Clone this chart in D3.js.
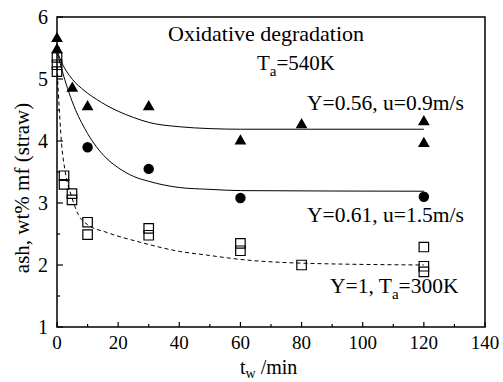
<!DOCTYPE html>
<head>
<script src="https://d3js.org/d3.v7.min.js"></script>
<style>
body { margin: 0; background: #fff; }
svg text { font-family: "Liberation Serif", "DejaVu Serif", serif; fill: #000; }
</style>
</head>
<body>
<svg></svg>
<script>
// measured points, ash content (wt% mf) vs washing time t_w (min)
var triT = [0, 0, 5, 10, 30, 60, 80, 120, 120];
var triY = [5.65, 5.47, 4.85, 4.55, 4.55, 4.0, 4.26, 4.31, 3.96];
var cirT = [10, 30, 60, 120];
var cirY = [3.9, 3.55, 3.08, 3.1];
var sqT = [0, 0, 0, 2.3, 2.3, 4.9, 4.9, 10, 10, 30, 30, 60, 60, 80, 120, 120, 120];
var sqY = [5.35, 5.23, 5.12, 3.44, 3.3, 3.15, 3.05, 2.69, 2.49, 2.59, 2.48, 2.35, 2.23, 2.0, 2.29, 1.98, 1.89];

// fitted curves
var fitTopT = [0, 2, 4, 6, 8, 10, 13, 16, 20, 25, 30, 40, 50, 60, 120];
var fitTopY = [5.45, 5.22, 5.06, 4.94, 4.85, 4.77, 4.67, 4.58, 4.48, 4.38, 4.3, 4.23, 4.2, 4.19, 4.19];
var fitMidT = [0, 2, 4, 6, 8, 10, 13, 16, 20, 25, 30, 40, 50, 60, 120];
var fitMidY = [5.45, 5.08, 4.77, 4.51, 4.3, 4.12, 3.9, 3.73, 3.57, 3.43, 3.35, 3.25, 3.22, 3.2, 3.19];
var fitLowT = [0, 0.4, 1.5, 2.6, 4.8, 7, 10, 16, 27, 40, 49, 60, 80, 120];
var fitLowY = [5.2, 4.82, 3.95, 3.53, 3.1, 2.81, 2.65, 2.53, 2.37, 2.22, 2.16, 2.09, 2.03, 2.0];

var xTicks = [0, 20, 40, 60, 80, 100, 120, 140];
var yTicks = [1, 2, 3, 4, 5, 6];

var width = 503, height = 382;
var plotL = 57, plotR = 485, plotT = 17, plotB = 327;

var svg = d3.select('svg').attr('width', width).attr('height', height);

var x = d3.scaleLinear().domain([0, 140]).range([plotL, plotR]);
var y = d3.scaleLinear().domain([1, 6]).range([plotB, plotT]);

// frame
svg.append('rect')
    .attr('x', plotL).attr('y', plotT)
    .attr('width', plotR - plotL).attr('height', plotB - plotT)
    .attr('fill', 'none').attr('stroke', '#000').attr('stroke-width', 1.5);

// ticks point inwards
svg.append('g').selectAll('line')
    .data(d3.range(0, 141, 10))
    .enter().append('line')
    .attr('x1', function (d) { return x(d); }).attr('x2', function (d) { return x(d); })
    .attr('y1', plotB).attr('y2', function (d) { return d % 20 ? plotB - 3 : plotB - 5; })
    .attr('stroke', '#000').attr('stroke-width', 1.2);

svg.append('g').selectAll('line')
    .data(d3.range(1, 6.01, 0.5))
    .enter().append('line')
    .attr('y1', function (d) { return y(d); }).attr('y2', function (d) { return y(d); })
    .attr('x1', plotL).attr('x2', function (d) { return d % 1 ? plotL + 3 : plotL + 6; })
    .attr('stroke', '#000').attr('stroke-width', 1.2);

svg.append('g').selectAll('text')
    .data(xTicks)
    .enter().append('text')
    .attr('x', function (d) { return x(d); })
    .attr('y', 349)
    .attr('text-anchor', 'middle')
    .style('font-size', '19px')
    .text(function (d) { return d; });

svg.append('g').selectAll('text')
    .data(yTicks)
    .enter().append('text')
    .attr('x', plotL - 9)
    .attr('y', function (d) { return y(d); })
    .attr('dy', '0.35em')
    .attr('text-anchor', 'end')
    .style('font-size', '20px')
    .text(function (d) { return d; });

// axis titles
var xl = svg.append('text').attr('x', 240).attr('y', 374).style('font-size', '20px');
xl.append('tspan').text('t');
xl.append('tspan').attr('dy', 4).style('font-size', '14px').text('w');
xl.append('tspan').attr('dy', -4).text(' /min');

svg.append('text')
    .attr('transform', 'translate(29,188) rotate(-90)')
    .attr('text-anchor', 'middle')
    .style('font-size', '21px')
    .text('ash, wt% mf (straw)');

// fitted curves
var line = d3.line()
    .x(function (d) { return x(d[0]); })
    .y(function (d) { return y(d[1]); })
    .curve(d3.curveMonotoneX);

svg.append('path').datum(d3.zip(fitTopT, fitTopY))
    .attr('d', line).attr('fill', 'none').attr('stroke', '#000').attr('stroke-width', 1);
svg.append('path').datum(d3.zip(fitMidT, fitMidY))
    .attr('d', line).attr('fill', 'none').attr('stroke', '#000').attr('stroke-width', 1);
svg.append('path').datum(d3.zip(fitLowT, fitLowY))
    .attr('d', line).attr('fill', 'none').attr('stroke', '#000').attr('stroke-width', 1)
    .attr('stroke-dasharray', '4,3');

// markers
svg.append('g').selectAll('path')
    .data(d3.zip(sqT, sqY))
    .enter().append('path')
    .attr('d', d3.symbol().type(d3.symbolSquare).size(90))
    .attr('transform', function (d) { return 'translate(' + x(d[0]) + ',' + y(d[1]) + ')'; })
    .attr('fill', 'none').attr('stroke', '#000').attr('stroke-width', 1.2);

svg.append('g').selectAll('circle')
    .data(d3.zip(cirT, cirY))
    .enter().append('circle')
    .attr('cx', function (d) { return x(d[0]); })
    .attr('cy', function (d) { return y(d[1]); })
    .attr('r', 5.2)
    .attr('fill', '#000');

svg.append('g').selectAll('path')
    .data(d3.zip(triT, triY))
    .enter().append('path')
    .attr('d', d3.symbol().type(d3.symbolTriangle).size(60))
    .attr('transform', function (d) { return 'translate(' + x(d[0]) + ',' + y(d[1]) + ')'; })
    .attr('fill', '#000');

// annotations
svg.append('text').attr('x', 168).attr('y', 41).style('font-size', '22px').text('Oxidative degradation');

var ta = svg.append('text').attr('x', 257).attr('y', 70).style('font-size', '21px');
ta.append('tspan').text('T');
ta.append('tspan').attr('dy', 6).style('font-size', '15px').text('a');
ta.append('tspan').attr('dy', -6).text('=540K');

svg.append('text').attr('x', 307).attr('y', 110).style('font-size', '21.5px').text('Y=0.56, u=0.9m/s');
svg.append('text').attr('x', 307).attr('y', 222).style('font-size', '21.5px').text('Y=0.61, u=1.5m/s');

var t3 = svg.append('text').attr('x', 330).attr('y', 293).style('font-size', '21.5px');
t3.append('tspan').text('Y=1, T');
t3.append('tspan').attr('dy', 6).style('font-size', '15px').text('a');
t3.append('tspan').attr('dy', -6).text('=300K');
</script>
</body>
